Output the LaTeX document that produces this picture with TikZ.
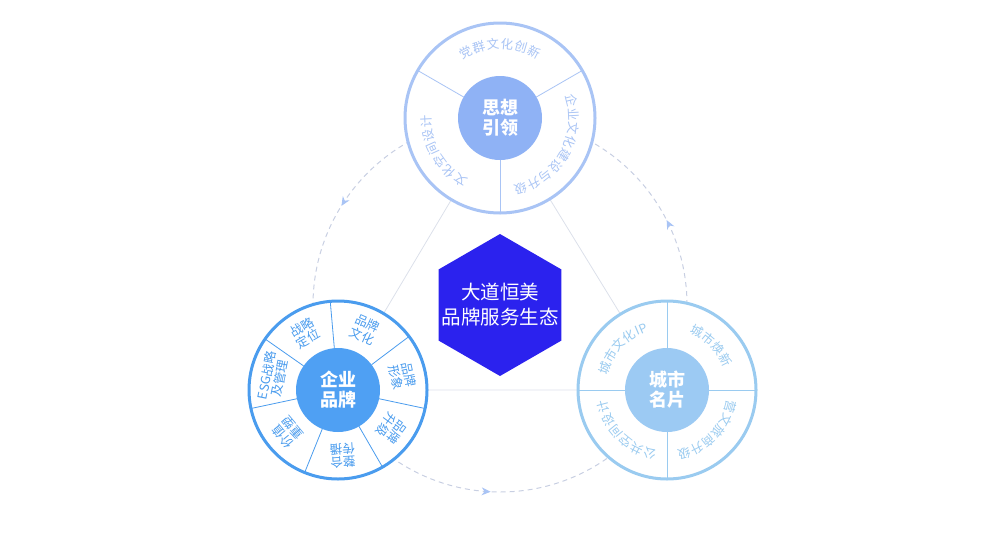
\documentclass[tikz,border=0pt]{standalone}
\usepackage{fontspec}
\setmainfont{Noto Sans CJK SC}
\usetikzlibrary{shapes.geometric,decorations.markings,arrows.meta,calc}
\definecolor{cTop}{HTML}{A9C4F5}
\definecolor{cTopIn}{HTML}{8FB2F5}
\definecolor{cL}{HTML}{4A9CEE}
\definecolor{cLIn}{HTML}{4FA0F3}
\definecolor{cR}{HTML}{9ACBF0}
\definecolor{cRIn}{HTML}{9CCAF3}
\definecolor{hexc}{HTML}{2B22EE}
\definecolor{tri}{HTML}{DCE0EA}
\definecolor{dashcol}{HTML}{C8CFE2}
\tikzset{
  ring/.style={circle,draw=#1,line width=3pt,fill=white,minimum size=190pt,inner sep=0pt},
  hub/.style={circle,fill=#1,minimum size=84pt,inner sep=0pt,text=white,font=\fontsize{18}{20}\selectfont\bfseries,align=center},
  seg/.style={font=\fontsize{12.5}{13}\selectfont,inner sep=0pt},
  segtwo/.style={font=\fontsize{12.5}{13.5}\selectfont,inner sep=0pt,align=center,text=cL},
}
\newcommand{\arctxt}[6]{%
  \foreach \ch [count=\i] in {#5} {%
    \pgfmathsetmacro{\ang}{#3-(\i-1)*#4}%
    \node[seg,text=#6,rotate=\ang-90] at ($(#1)+(\ang:#2)$) {\ch};
  }}
\begin{document}
\begin{tikzpicture}[x=1pt,y=1pt]
\useasboundingbox (0,0) rectangle (1000,-536);
\coordinate (O) at (500,-305);
\coordinate (T) at (500,-118);
\coordinate (L) at (338,-390);
\coordinate (R) at (667,-390);
% triangle
\draw[tri,line width=0.8pt] (T) -- (L) -- (R) -- cycle;
% dashed circle with arrows
\draw[dashcol,line width=1pt,dash pattern=on 5pt off 4pt,
  decoration={markings,
   mark=at position 0.075 with {\arrow[cTop,line width=1pt,solid]{Stealth[length=9pt,width=8pt]}},
   mark=at position 0.411 with {\arrow[cTop,line width=1pt,solid]{Stealth[length=9pt,width=8pt]}},
   mark=at position 0.742 with {\arrow[cTop,line width=1pt,solid]{Stealth[length=9pt,width=8pt]}}},
  postaction={decorate}] (O) circle (187);
% hexagon
\node[regular polygon,regular polygon sides=6,shape border rotate=30,fill=hexc,minimum size=142pt,inner sep=0pt] (hex) at (O) {};
\node[text=white,font=\fontsize{19.5}{25}\selectfont,align=center] (hextxt) at (hex.center) {大道恒美\\品牌服务生态};
% top circle
\node[ring=cTop] (ringT) at (T) {};
\foreach \a in {150,30,270} \draw[cTop,line width=0.8pt] ($(T)+(\a:42)$) -- ($(T)+(\a:95)$);
\node[hub=cTopIn] (hubT) at (T) {思想\\引领};
\arctxt{T}{74}{117.5}{11}{党,群,文,化,创,新}{cTop}
\arctxt{T}{74}{14}{11}{企,业,文,化,建,设,与,升,级}{cTop}
\arctxt{T}{74}{237.5}{11}{文,化,空,间,设,计}{cTop}
% right circle
\node[ring=cR,minimum size=178pt] (ringR) at (R) {};
\foreach \a in {0,90,180,270} \draw[cR,line width=0.8pt] ($(R)+(\a:42)$) -- ($(R)+(\a:88)$);
\node[hub=cRIn] (hubR) at (R) {城市\\名片};
\arctxt{R}{66}{161}{12}{城,市,文,化,IP}{cR}
\arctxt{R}{66}{63}{12}{城,市,焕,新}{cR}
\arctxt{R}{66}{-15}{12}{营,文,旅,商,升,级}{cR}
\arctxt{R}{66}{255}{12}{公,共,空,间,设,计}{cR}
% left circle
\node[ring=cL,minimum size=178pt] (ringL) at (L) {};
\foreach \a in {95,37,-12,-60,-112,192,145} \draw[cL,line width=0.8pt] ($(L)+(\a:42)$) -- ($(L)+(\a:88)$);
\node[hub=cLIn] (hubL) at (L) {企业\\品牌};
\foreach \m/\t in {120/战略\\定位, 66/品牌\\文化, 12.5/品牌\\形象, -36/品牌\\升级, -86/整合\\传播, 220/价值\\重塑, 168.5/ESG战略\\及管理}
  \node[segtwo,rotate=\m-90] at ($(L)+(\m:66)$) {\t};
\end{tikzpicture}
\end{document}
